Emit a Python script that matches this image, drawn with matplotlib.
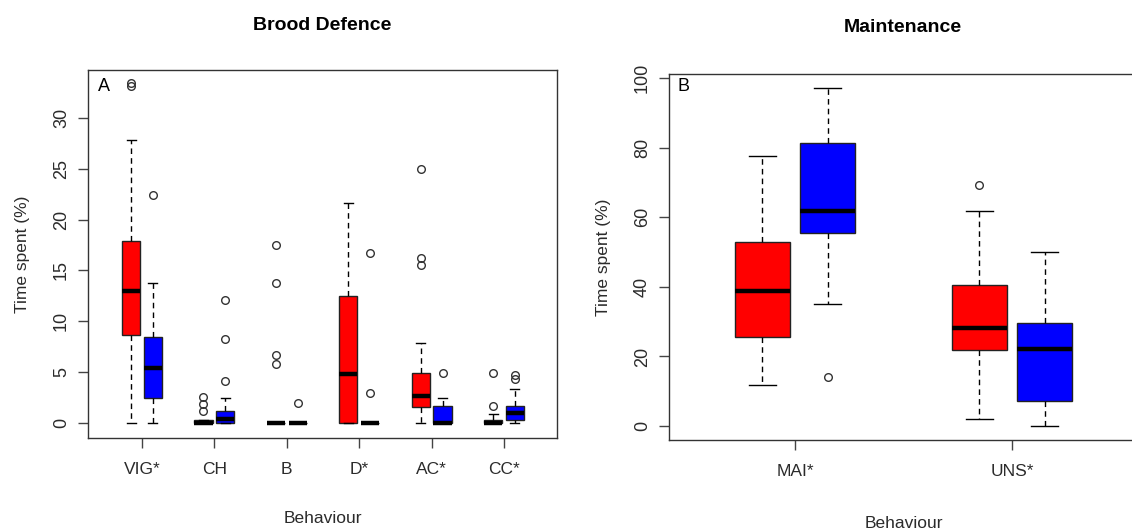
import numpy as np
import matplotlib
matplotlib.use("Agg")
import matplotlib.pyplot as plt

plt.rcParams['font.family'] = ['Liberation Sans', 'DejaVu Sans']

# Panel A: brood defence behaviours (summary stats)
brood_labels = ['VIG*', 'CH', 'B', 'D*', 'AC*', 'CC*']
red_med = [13.0, 0.05, 0.0, 4.8, 2.7, 0.05]
red_q1 = [8.7, 0.0, 0.0, 0.0, 1.6, 0.0]
red_q3 = [17.9, 0.35, 0.0, 12.5, 4.95, 0.35]
red_lo = [0.0, 0.0, 0.0, 0.0, 0.0, 0.0]
red_hi = [27.8, 0.35, 0.0, 21.6, 7.9, 0.85]
red_fliers = [[33.1, 33.4], [2.6, 1.9, 1.2], [17.5, 13.8, 6.7, 5.8], [],
              [25.0, 16.25, 15.5], [4.95, 1.7]]
blue_med = [5.4, 0.4, 0.0, 0.0, 0.0, 0.95]
blue_q1 = [2.5, 0.0, 0.0, 0.0, 0.0, 0.35]
blue_q3 = [8.5, 1.2, 0.0, 0.0, 1.7, 1.65]
blue_lo = [0.0, 0.0, 0.0, 0.0, 0.0, 0.0]
blue_hi = [13.8, 2.5, 0.0, 0.0, 2.45, 3.3]
blue_fliers = [[22.45], [12.1, 8.3, 4.1], [2.0], [16.7, 3.0], [4.95], [4.75, 4.3]]

# Panel B: maintenance behaviours
maint_labels = ['MAI*', 'UNS*']
m_red_med = [38.9, 28.2]
m_red_q1 = [25.5, 21.9]
m_red_q3 = [52.9, 40.5]
m_red_lo = [11.7, 2.1]
m_red_hi = [77.6, 61.8]
m_red_fliers = [[], [69.3]]
m_blue_med = [61.8, 22.0]
m_blue_q1 = [55.6, 7.2]
m_blue_q3 = [81.3, 29.5]
m_blue_lo = [35.1, 0.0]
m_blue_hi = [97.1, 50.1]
m_blue_fliers = [[14.1], []]

TXT = '#2b2b2b'


def make_stats(med, q1, q3, lo, hi, fliers):
    return [dict(med=m, q1=a, q3=b, whislo=l, whishi=h, fliers=f)
            for m, a, b, l, h, f in zip(med, q1, q3, lo, hi, fliers)]


def draw_boxes(ax, stats, positions, color):
    ax.bxp(stats, positions=positions, widths=0.25, capwidths=0.125,
           patch_artist=True, manage_ticks=False,
           boxprops=dict(facecolor=color, edgecolor='#222222', linewidth=1),
           medianprops=dict(color='black', linewidth=3.2, solid_capstyle='butt'),
           whiskerprops=dict(color='black', linewidth=1, linestyle=(0, (4, 3))),
           capprops=dict(color='black', linewidth=1),
           flierprops=dict(marker='o', markerfacecolor='none',
                           markeredgecolor='#333333', markersize=5.5,
                           markeredgewidth=1))


def style_axes(ax, labels, yticks, ylim, xlim):
    x = np.arange(1, len(labels) + 1)
    ax.set_xticks(x)
    ax.set_xticklabels(labels, fontsize=12.5, color=TXT)
    ax.set_yticks(yticks)
    ax.set_yticklabels([str(v) for v in yticks], rotation=90, va='center',
                       fontsize=13, color=TXT)
    ax.set_ylim(*ylim)
    ax.set_xlim(*xlim)
    ax.tick_params(direction='out', length=7, width=1, color='#444444')
    ax.tick_params(axis='y', pad=6)
    ax.tick_params(axis='x', pad=10)
    for s in ax.spines.values():
        s.set_color('#333333')
        s.set_linewidth(1)


fig = plt.figure(figsize=(11.32, 5.31), dpi=100)

# Panel A
axA = fig.add_axes([0.0777, 0.1751, 0.4143, 0.693])
xa = np.arange(1, len(brood_labels) + 1)
draw_boxes(axA, make_stats(red_med, red_q1, red_q3, red_lo, red_hi, red_fliers),
           xa - 0.15, 'red')
draw_boxes(axA, make_stats(blue_med, blue_q1, blue_q3, blue_lo, blue_hi, blue_fliers),
           xa + 0.15, 'blue')
style_axes(axA, brood_labels, [0, 5, 10, 15, 20, 25, 30], (-1.47, 34.7), (0.255, 6.73))
axA.set_xlabel('Behaviour', fontsize=12.5, color=TXT)
axA.xaxis.set_label_coords(0.5, -0.197)
axA.set_ylabel('Time spent (%)', fontsize=12.5, color=TXT)
axA.yaxis.set_label_coords(-0.124, 0.5)
axA.text(0.021, 0.954, 'A', transform=axA.transAxes, fontsize=13,
         ha='left', va='center')
fig.text(322 / 1132, 1 - 25 / 531, 'Brood Defence', fontsize=14,
         fontweight='bold', ha='center', va='center')

# Panel B
axB = fig.add_axes([0.591, 0.1714, 0.4143, 0.689])
xb = np.arange(1, len(maint_labels) + 1)
draw_boxes(axB, make_stats(m_red_med, m_red_q1, m_red_q3, m_red_lo, m_red_hi, m_red_fliers),
           xb - 0.15, 'red')
draw_boxes(axB, make_stats(m_blue_med, m_blue_q1, m_blue_q3, m_blue_lo, m_blue_hi, m_blue_fliers),
           xb + 0.15, 'blue')
style_axes(axB, maint_labels, [0, 20, 40, 60, 80, 100], (-4.0, 101.1), (0.42, 2.58))
axB.set_xlabel('Behaviour', fontsize=12.5, color=TXT)
axB.xaxis.set_label_coords(0.5, -0.207)
axB.set_ylabel('Time spent (%)', fontsize=12.5, color=TXT)
axB.yaxis.set_label_coords(-0.124, 0.5)
axB.text(0.019, 0.966, 'B', transform=axB.transAxes, fontsize=13,
         ha='left', va='center')
fig.text(903 / 1132, 1 - 28 / 531, 'Maintenance', fontsize=14,
         fontweight='bold', ha='center', va='center')

fig.savefig('out.png', dpi=100)
